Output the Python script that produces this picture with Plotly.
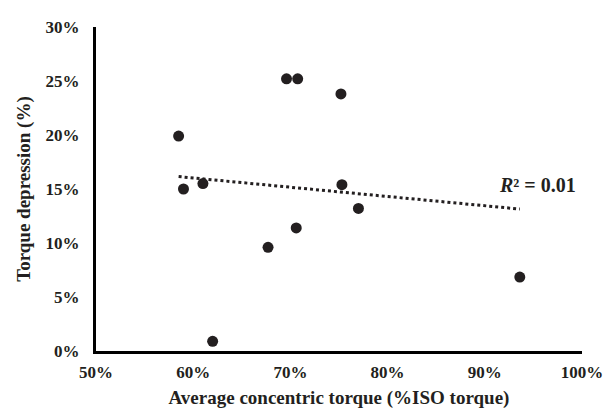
import numpy as np
import plotly.graph_objects as go

# Data (percent)
concentric_torque = [58.5, 59.0, 61.0, 69.6, 70.75, 75.2, 75.3, 77.0, 67.7, 70.6, 62.0, 93.6]
torque_depression = [19.9, 15.0, 15.5, 25.2, 25.2, 23.8, 15.4, 13.2, 9.6, 11.4, 0.9, 6.85]
x_ticks = [50, 60, 70, 80, 90, 100]
y_ticks = [0, 5, 10, 15, 20, 25, 30]

x = np.array(concentric_torque)
y = np.array(torque_depression)
slope, intercept = np.polyfit(x, y, 1)
tx = np.array([x.min(), x.max()])
ty = slope * tx + intercept
r2 = np.corrcoef(x, y)[0, 1] ** 2

font_family = "Liberation Serif"
ink = "#231f20"

fig = go.Figure()
fig.add_trace(go.Scatter(x=tx, y=ty, mode="lines",
                         line=dict(color=ink, width=3, dash="dot"),
                         showlegend=False, hoverinfo="skip"))
fig.add_trace(go.Scatter(x=concentric_torque, y=torque_depression, mode="markers",
                         marker=dict(color=ink, size=11),
                         showlegend=False))

fig.add_annotation(x=91.3, y=15.4, xref="x", yref="y",
                   text=f"<b><i>R</i>² = {r2:.2f}</b>", showarrow=False,
                   xanchor="left", yanchor="middle",
                   font=dict(family=font_family, size=20, color=ink))

fig.update_layout(
    width=608, height=414,
    margin=dict(l=96, r=26, t=27, b=63, autoexpand=False),
    paper_bgcolor="white", plot_bgcolor="white",
    font=dict(family=font_family, color=ink),
)
fig.update_xaxes(
    range=[50, 100], tickvals=x_ticks,
    ticktext=[f"<b>{v}%</b>" for v in x_ticks],
    showgrid=False, zeroline=False,
    showline=True, linecolor="black", linewidth=3, mirror=False,
    ticks="outside", ticklen=4, tickcolor="white", tickwidth=1,
    tickfont=dict(family=font_family, size=17, color=ink),
    title=dict(text="<b>Average concentric torque (%ISO torque)</b>",
               font=dict(family=font_family, size=19, color=ink), standoff=10),
)
fig.update_yaxes(
    range=[0, 30], tickvals=y_ticks,
    ticktext=[f"<b>{v}%</b>" for v in y_ticks],
    showgrid=False, zeroline=False,
    showline=True, linecolor="black", linewidth=3, mirror=False,
    ticks="outside", ticklen=10, tickcolor="white", tickwidth=1,
    tickfont=dict(family=font_family, size=17, color=ink),
    title=dict(text="<b>Torque depression (%)</b>",
               font=dict(family=font_family, size=19, color=ink), standoff=10),
)

fig.write_html("out.html")
